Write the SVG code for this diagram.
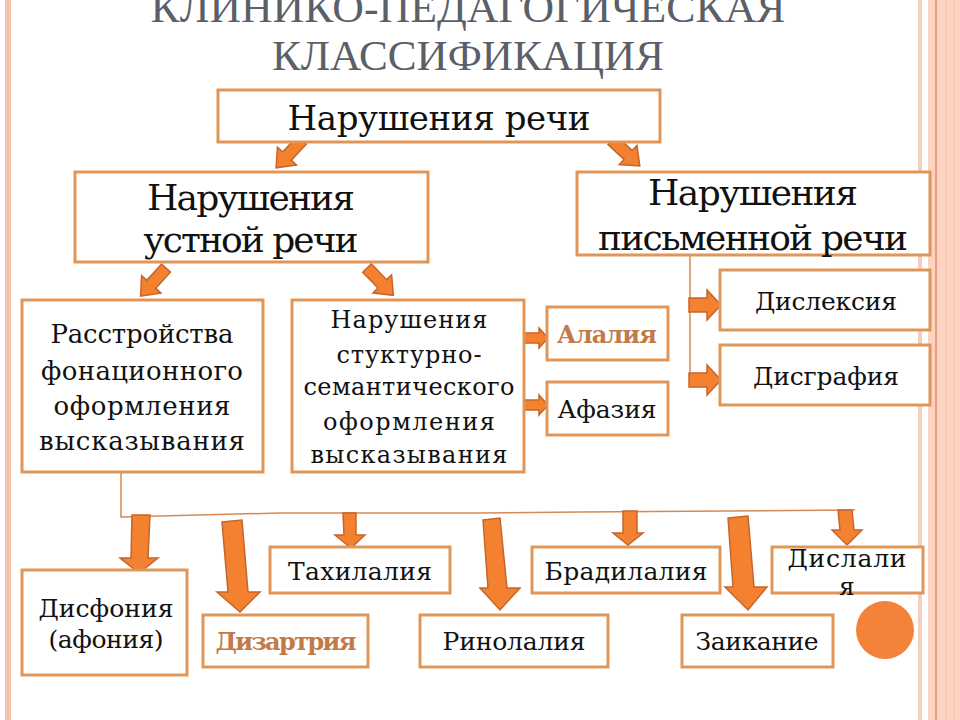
<svg xmlns="http://www.w3.org/2000/svg" width="960" height="720" viewBox="0 0 960 720">
<defs>
<style>
.box{fill:#ffffff;stroke:#df9659;stroke-width:3}
.t{font-family:"DejaVu Serif","Liberation Serif",serif;fill:#111111;text-anchor:middle}
.c{fill:#c27a48;font-weight:bold}
.title{font-family:"Liberation Serif","DejaVu Serif",serif;fill:#5b6068;text-anchor:middle;font-size:42px}
.ln{fill:none;stroke:#d68a50;stroke-width:1.5}
.ar{fill:#f4812f;stroke:#c5652b;stroke-width:1.5;stroke-linejoin:miter}
</style>
<path id="da" d="M-6,0 L6,0 L6,22 L13,22 L0,38 L-13,22 L-6,22 Z"/>
<path id="ra" d="M-5,0 L5,0 L5,15 L10,15 L0,24 L-10,15 L-5,15 Z"/>
<path id="rb" d="M-7,0 L7,0 L7,18 L15,18 L0,32 L-15,18 L-7,18 Z"/>
</defs>
<rect x="0" y="0" width="960" height="720" fill="#ffffff"/>
<rect x="5" y="0" width="6" height="720" fill="#f4c3ae"/>
<rect x="918" y="0" width="4" height="720" fill="#f3cdbd"/>
<rect x="928" y="0" width="32" height="720" fill="#fcd3c0"/>
<line x1="936" y1="0" x2="936" y2="720" stroke="#e08e68" stroke-width="1.5"/>
<line x1="946" y1="0" x2="946" y2="720" stroke="#f6bfa6" stroke-width="1"/>
<line x1="954" y1="0" x2="954" y2="720" stroke="#f6bfa6" stroke-width="1"/>
<g id="title">
<text class="title" x="468" y="22" textLength="635" lengthAdjust="spacingAndGlyphs">КЛИНИКО-ПЕДАГОГИЧЕСКАЯ</text>
<text class="title" x="468" y="70" textLength="392" lengthAdjust="spacingAndGlyphs">КЛАССИФИКАЦИЯ</text>
</g>
<g id="connectors">
<polyline class="ln" points="690,255 690,387"/>
<polyline class="ln" points="121,472 121,517 280,513 480,513 580,512 855,510"/>
<use href="#da" class="ar" transform="translate(302,140) rotate(43)"/>
<use href="#da" class="ar" transform="translate(612,140) rotate(-47)"/>
<use href="#da" class="ar" transform="translate(166,268) rotate(42)"/>
<use href="#da" class="ar" transform="translate(367,268) rotate(-44)"/>
<use href="#ra" class="ar" transform="translate(524,338) rotate(-90)"/>
<use href="#ra" class="ar" transform="translate(524,405) rotate(-90)"/>
<use href="#rb" class="ar" transform="translate(689,305) rotate(-90)"/>
<use href="#rb" class="ar" transform="translate(689,380) rotate(-90)"/>
<polygon class="ar" points="132,515 150,515 148,558 158,558 139,573 120,558 131,558"/>
<polygon class="ar" points="222,522 242,520 248,592 260,592 240,612 217,592 228,592"/>
<polygon class="ar" points="343,513 356,513 356,535 365,535 351,548 335,535 344,535"/>
<polygon class="ar" points="483,520 500,518 507,588 520,588 500,610 480,588 488,588"/>
<polygon class="ar" points="623,511 637,511 637,533 643,533 628,545 613,533 623,533"/>
<polygon class="ar" points="728,518 748,516 754,587 767,587 748,610 725,587 733,587"/>
<polygon class="ar" points="838,510 852,510 854,530 862,530 847,545 832,530 840,530"/>
</g>
<g id="n-speech">
<rect class="box" x="218" y="90" width="442" height="52"/>
<text class="t" x="439" y="130" font-size="34" textLength="303">Нарушения речи</text>
</g>
<g id="n-oral">
<rect class="box" x="75" y="172" width="353" height="90"/>
<text class="t" x="251" y="210" font-size="36" textLength="208">Нарушения</text>
<text class="t" x="251" y="252" font-size="36" textLength="215">устной речи</text>
</g>
<g id="n-written">
<rect class="box" x="577" y="172" width="353" height="83"/>
<text class="t" x="753" y="205" font-size="36" textLength="210">Нарушения</text>
<text class="t" x="753" y="250" font-size="36" textLength="310">письменной речи</text>
</g>
<g id="n-phon">
<rect class="box" x="22" y="300" width="241" height="172"/>
<text class="t" x="142" y="343" font-size="26" textLength="183">Расстройства</text>
<text class="t" x="142" y="380" font-size="26" textLength="202">фонационного</text>
<text class="t" x="142" y="415" font-size="26" textLength="177">оформления</text>
<text class="t" x="142" y="450" font-size="26" textLength="206">высказывания</text>
</g>
<g id="n-struct">
<rect class="box" x="292" y="300" width="232" height="172"/>
<text class="t" x="409" y="328" font-size="24" textLength="157">Нарушения</text>
<text class="t" x="409" y="363" font-size="24" textLength="145">стуктурно-</text>
<text class="t" x="409" y="395" font-size="24" textLength="211">семантического</text>
<text class="t" x="409" y="430" font-size="24" textLength="172">оформления</text>
<text class="t" x="409" y="463" font-size="24" textLength="197">высказывания</text>
</g>
<g id="n-alalia">
<rect class="box" x="547" y="307" width="121" height="53"/>
<text class="t c" x="607" y="343" font-size="24" textLength="100">Алалия</text>
</g>
<g id="n-aphasia">
<rect class="box" x="547" y="382" width="121" height="53"/>
<text class="t" x="607" y="418" font-size="25" textLength="99">Афазия</text>
</g>
<g id="n-dyslexia">
<rect class="box" x="720" y="270" width="210" height="60"/>
<text class="t" x="826" y="310" font-size="25" textLength="142">Дислексия</text>
</g>
<g id="n-dysgraphia">
<rect class="box" x="720" y="345" width="210" height="60"/>
<text class="t" x="826" y="385" font-size="25" textLength="146">Дисграфия</text>
</g>
<g id="n-dysphonia">
<rect class="box" x="22" y="570" width="165" height="105"/>
<text class="t" x="106" y="617" font-size="25" textLength="135">Дисфония</text>
<text class="t" x="106" y="648" font-size="25" textLength="115">(афония)</text>
</g>
<g id="n-dysarthria">
<rect class="box" x="203" y="615" width="165" height="52"/>
<text class="t c" x="286" y="650" font-size="24" textLength="141">Дизартрия</text>
</g>
<g id="n-tachylalia">
<rect class="box" x="270" y="547" width="180" height="46"/>
<text class="t" x="360" y="580" font-size="25" textLength="144">Тахилалия</text>
</g>
<g id="n-rhinolalia">
<rect class="box" x="420" y="615" width="188" height="52"/>
<text class="t" x="514" y="650" font-size="25" textLength="143">Ринолалия</text>
</g>
<g id="n-bradylalia">
<rect class="box" x="532" y="547" width="188" height="46"/>
<text class="t" x="626" y="580" font-size="25" textLength="163">Брадилалия</text>
</g>
<g id="n-stuttering">
<rect class="box" x="682" y="615" width="151" height="52"/>
<text class="t" x="757" y="650" font-size="25" textLength="123">Заикание</text>
</g>
<g id="n-dyslalia">
<rect class="box" x="772" y="547" width="151" height="46"/>
<text class="t" x="847" y="567" font-size="25" textLength="119">Дислали</text>
<text class="t" x="847" y="595" font-size="25">я</text>
</g>
<circle cx="885" cy="630" r="29" fill="#f4833a"/>
</svg>
